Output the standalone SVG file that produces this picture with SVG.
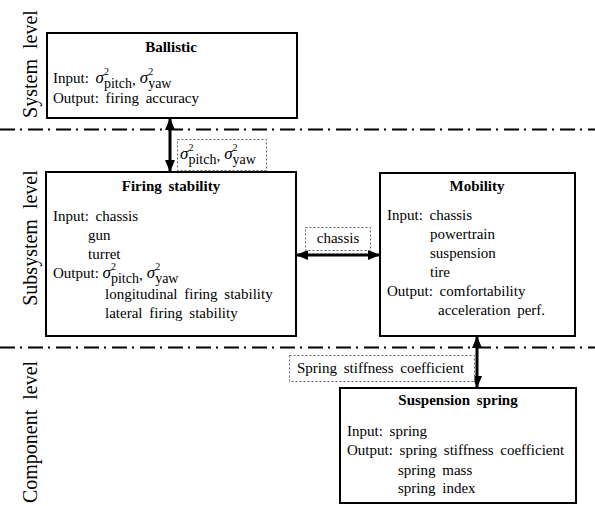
<svg xmlns="http://www.w3.org/2000/svg" width="595" height="506" viewBox="0 0 595 506">
<style>
  .box { fill: #fff; stroke: #000; stroke-width: 2; }
  .lbl { fill: #fff; stroke: #666; stroke-width: 1; stroke-dasharray: 2 2; }
  .t { font-family: "Liberation Serif", "Times New Roman", serif; font-size: 15px; fill: #000; word-spacing: 3px; }
  .b { font-weight: bold; text-anchor: middle; }
  .side { font-family: "Liberation Serif", "Times New Roman", serif; font-size: 20px; fill: #000; text-anchor: middle; word-spacing: 5px; }
  .sig { font-style: italic; font-size: 17px; }
  .sup { font-size: 10px; }
  .sub { font-size: 14px; }
  .level { stroke: #000; stroke-width: 2; stroke-dasharray: 15 5 2 6; fill: none; }
  .arr { stroke: #000; stroke-width: 3; fill: none; marker-start: url(#ah); marker-end: url(#ah); }
</style>
<defs>
  <marker id="ah" viewBox="0 0 12 10" refX="11" refY="5" markerWidth="12" markerHeight="10" markerUnits="userSpaceOnUse" orient="auto-start-reverse">
    <path d="M0,0 L12,5 L0,10 Z" fill="#000"/>
  </marker>
</defs>

<g id="levels">
  <line class="level" x1="0" y1="129.5" x2="595" y2="129.5"/>
  <line class="level" x1="0" y1="347.5" x2="595" y2="347.5"/>
  <text class="side" transform="translate(37,64) rotate(-90)">System level</text>
  <text class="side" transform="translate(37,238) rotate(-90)">Subsystem level</text>
  <text class="side" transform="translate(37,432) rotate(-90)">Component level</text>
</g>

<g id="ballistic">
  <rect class="box" x="47" y="33" width="250" height="85"/>
  <text class="t b" x="171" y="52">Ballistic</text>
  <text class="t" x="53" y="83">Input: <tspan class="sig">σ</tspan><tspan class="sup" dy="-8">2</tspan><tspan class="sub" dx="-5" dy="13">pitch</tspan><tspan dy="-3">,</tspan><tspan class="sig" dx="4" dy="-2">σ</tspan><tspan class="sup" dy="-8">2</tspan><tspan class="sub" dx="-5" dy="13">yaw</tspan></text>
  <text class="t" x="53" y="103">Output: firing accuracy</text>
</g>

<g id="firing-stability">
  <rect class="box" x="46" y="172" width="250" height="164"/>
  <text class="t b" x="171" y="191">Firing stability</text>
  <text class="t" x="53" y="221">Input: chassis</text>
  <text class="t" x="88" y="240">gun</text>
  <text class="t" x="88" y="259">turret</text>
  <text class="t" x="53" y="278" style="word-spacing:0">Output: <tspan class="sig">σ</tspan><tspan class="sup" dy="-8">2</tspan><tspan class="sub" dx="-5" dy="13">pitch</tspan><tspan dy="-3">,</tspan><tspan class="sig" dx="4" dy="-2">σ</tspan><tspan class="sup" dy="-8">2</tspan><tspan class="sub" dx="-5" dy="13">yaw</tspan></text>
  <text class="t" x="105" y="299">longitudinal firing stability</text>
  <text class="t" x="105" y="318">lateral firing stability</text>
</g>

<g id="mobility">
  <rect class="box" x="380" y="173" width="195" height="163"/>
  <text class="t b" x="477" y="191">Mobility</text>
  <text class="t" x="387" y="220">Input: chassis</text>
  <text class="t" x="430" y="239">powertrain</text>
  <text class="t" x="430" y="258">suspension</text>
  <text class="t" x="430" y="277">tire</text>
  <text class="t" x="387" y="296">Output: comfortability</text>
  <text class="t" x="438" y="315">acceleration perf.</text>
</g>

<g id="suspension-spring">
  <rect class="box" x="340" y="388" width="236" height="115"/>
  <text class="t b" x="458" y="405">Suspension spring</text>
  <text class="t" x="347" y="436">Input: spring</text>
  <text class="t" x="347" y="455">Output: spring stiffness coefficient</text>
  <text class="t" x="398" y="475">spring mass</text>
  <text class="t" x="398" y="493">spring index</text>
</g>

<g id="connectors">
  <line class="arr" x1="170" y1="119" x2="170" y2="171"/>
  <rect class="lbl" x="177.5" y="139.5" width="89" height="31"/>
  <text class="t" x="180" y="159"><tspan class="sig">σ</tspan><tspan class="sup" dy="-8">2</tspan><tspan class="sub" dx="-5" dy="13">pitch</tspan><tspan dy="-3">,</tspan><tspan class="sig" dx="4" dy="-2">σ</tspan><tspan class="sup" dy="-8">2</tspan><tspan class="sub" dx="-5" dy="13">yaw</tspan></text>

  <line class="arr" x1="297" y1="255" x2="379" y2="255"/>
  <rect class="lbl" x="305.5" y="227.5" width="65" height="23"/>
  <text class="t" x="338" y="243" text-anchor="middle">chassis</text>

  <line class="arr" x1="477" y1="337" x2="477" y2="387"/>
  <rect class="lbl" x="289.5" y="355.5" width="185" height="26"/>
  <text class="t" x="297" y="373">Spring stiffness coefficient</text>
</g>
</svg>
